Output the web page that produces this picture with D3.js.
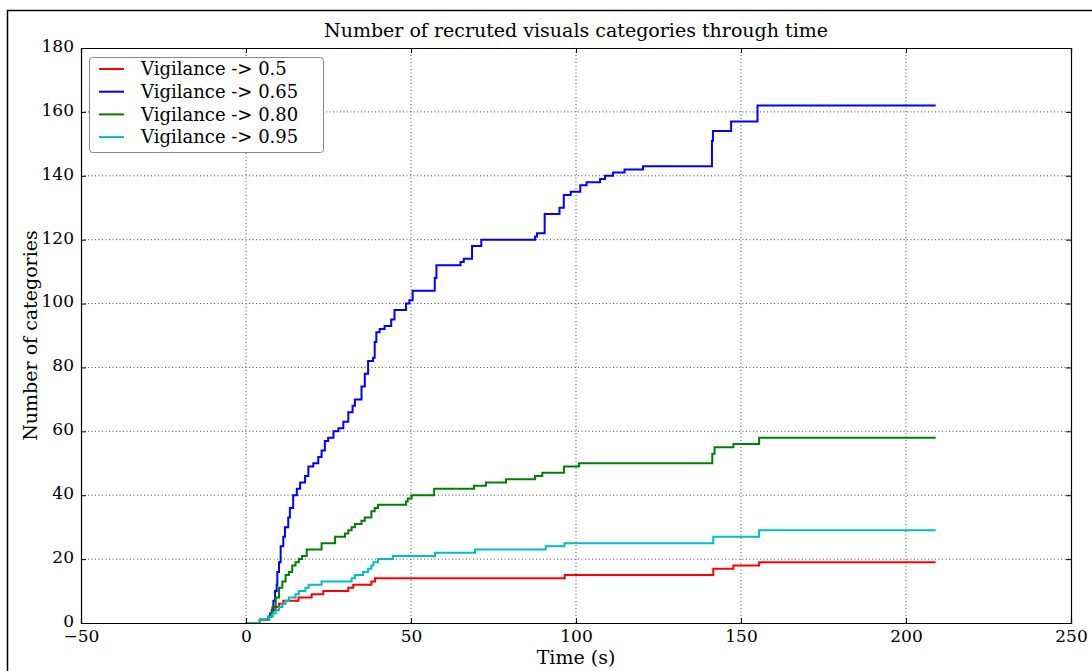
<!DOCTYPE html>
<html>
<head>
<meta charset="utf-8">
<script src="https://cdn.jsdelivr.net/npm/d3@7"></script>
<style>
	body { margin: 0; background: #fff; }
	svg text { font-family: "DejaVu Serif", serif; fill: #000; }
</style>
</head>
<body>
<svg id="chart" width="1092" height="671"></svg>
<script>
// step series: time (s) and number of categories at each step
var redT = [0, 4.2, 7, 8, 9, 10, 11.3, 13.3, 15.9, 19.9, 23.4, 31, 32.5, 38, 39.1, 96.6, 141.6, 147.7, 155.5, 209];
var redV = [0, 1, 2, 4, 5, 6, 7, 7, 8, 9, 10, 11, 12, 13, 14, 15, 17, 18, 19, 19];

var blueT = [0, 4.2, 6.8, 7.3, 7.8, 8.3, 8.8, 9.3, 9.5, 10, 10.5, 11.3, 11.8, 12.8, 13.3, 14.3, 15.4, 16.4, 17.9, 18.9, 20.4, 21.9, 22.9, 23.9, 24.9, 26.5, 28, 29.5, 31, 32.3, 33, 35, 36, 37, 38.5, 39, 39.5, 40.5, 42, 44, 45, 48.5, 49.5, 50.5, 57.2, 57.7, 65, 66, 68.5, 71.3, 87.6, 88.2, 90.5, 95, 96.3, 98.4, 101.3, 103.2, 107.3, 108.8, 111.2, 114.7, 120.3, 141.2, 141.5, 147, 155, 209];
var blueV = [0, 1, 2, 3, 4, 7, 10, 12, 16, 19, 24, 27, 30, 33, 36, 40, 42, 44, 46, 49, 50, 52, 54, 57, 58, 60, 61, 63, 66, 68, 70, 74, 78, 82, 83, 88, 91, 92, 93, 95, 98, 100, 101, 104, 108, 112, 113, 114, 118, 120, 121, 122, 128, 130, 134, 135, 137, 138, 139, 140, 141, 142, 143, 151, 154, 157, 162, 162];

var greenT = [0, 4.2, 7, 7.5, 8, 9, 10, 11, 12, 13, 14, 15, 16, 17, 18.4, 22.9, 27, 30, 31, 32, 33, 35, 36, 38, 39, 40, 48.5, 49, 50.2, 57, 69.1, 72.7, 78.8, 87.6, 89.8, 96.4, 100.9, 141.3, 142, 147.7, 155.5, 209];
var greenV = [0, 1, 2, 3, 5, 8, 11, 13, 15, 16, 18, 19, 20, 21, 23, 25, 27, 28, 29, 30, 31, 32, 33, 35, 36, 37, 38, 39, 40, 42, 43, 44, 45, 46, 47, 49, 50, 53, 55, 56, 58, 58];

var cyanT = [0, 4.2, 7, 8, 9, 10, 11, 12, 13, 15, 16, 18, 19, 22.9, 32, 33, 35.5, 37, 38, 38.6, 40, 44.5, 57.3, 69.4, 90.8, 96.5, 141.6, 155.5, 209];
var cyanV = [0, 1, 2, 3, 4, 5, 6, 7, 8, 9, 10, 11, 12, 13, 14, 15, 16, 17, 18, 19, 20, 21, 22, 23, 24, 25, 27, 29, 29];

var seriesNames = ["Vigilance -> 0.5", "Vigilance -> 0.65", "Vigilance -> 0.80", "Vigilance -> 0.95"];
var seriesColors = ["#ff0000", "#0000ff", "#008000", "#00bfbf"];
var xTicks = [-50, 0, 50, 100, 150, 200, 250];
var yTicks = [0, 20, 40, 60, 80, 100, 120, 140, 160, 180];

(function () {
	var svg = d3.select("#chart");
	var margin = {top: 48, right: 21, bottom: 48, left: 81},
		width = 1092 - margin.left - margin.right,
		height = 671 - margin.top - margin.bottom;

	// figure frame (clipped by the window)
	svg.append("rect")
		.attr("x", 7.5).attr("y", 10.5)
		.attr("width", 1200).attr("height", 800)
		.attr("fill", "none").attr("stroke", "#000").attr("stroke-width", 1.5);

	var g = svg.append("g").attr("transform", "translate(" + margin.left + "," + margin.top + ")");

	var x = d3.scaleLinear().domain([-50, 250]).range([0, width]);
	var y = d3.scaleLinear().domain([0, 180]).range([height, 0]);

	// grid
	g.append("g").selectAll("line").data(xTicks.slice(1, -1)).enter().append("line")
		.attr("x1", function (d) { return x(d); }).attr("x2", function (d) { return x(d); })
		.attr("y1", 0).attr("y2", height)
		.attr("stroke", "#000").attr("stroke-width", 0.7).attr("stroke-dasharray", "1,2.5");
	g.append("g").selectAll("line").data(yTicks.slice(1, -1)).enter().append("line")
		.attr("y1", function (d) { return y(d); }).attr("y2", function (d) { return y(d); })
		.attr("x1", 0).attr("x2", width)
		.attr("stroke", "#000").attr("stroke-width", 0.7).attr("stroke-dasharray", "1,2.5");

	// lines
	var data = [
		{t: redT, v: redV},
		{t: blueT, v: blueV},
		{t: greenT, v: greenV},
		{t: cyanT, v: cyanV}
	];
	var line = d3.line()
		.x(function (d) { return x(d[0]); })
		.y(function (d) { return y(d[1]); })
		.curve(d3.curveStepAfter);
	data.forEach(function (s, i) {
		g.append("path")
			.datum(d3.zip(s.t, s.v))
			.attr("fill", "none")
			.attr("stroke", seriesColors[i])
			.attr("stroke-width", 2)
			.attr("d", line);
	});

	// axes, ticks inside on all four sides
	var fmt = d3.format("");
	g.append("g").attr("transform", "translate(0," + height + ")")
		.call(d3.axisBottom(x).tickValues(xTicks).tickFormat(fmt).tickSize(-5).tickPadding(7));
	g.append("g")
		.call(d3.axisTop(x).tickValues(xTicks).tickFormat("").tickSize(-5));
	var yAxis = g.append("g")
		.call(d3.axisLeft(y).tickValues(yTicks).tickFormat(fmt).tickSize(-5).tickPadding(7));
	yAxis.selectAll(".tick text").attr("dy", "0.2em");
	g.append("g").attr("transform", "translate(" + width + ",0)")
		.call(d3.axisRight(y).tickValues(yTicks).tickFormat("").tickSize(-5));
	g.selectAll(".domain").attr("stroke", "#000").attr("stroke-width", 1.2);
	g.selectAll(".tick line").attr("stroke", "#000");
	g.selectAll(".tick text").style("font-family", "DejaVu Serif").style("font-size", "17px");

	// legend
	var lg = svg.append("g");
	lg.append("rect")
		.attr("x", 89.5).attr("y", 57.5).attr("width", 234).attr("height", 95).attr("rx", 3)
		.attr("fill", "#fff").attr("stroke", "#888").attr("stroke-width", 1);
	seriesNames.forEach(function (name, i) {
		var yy = 69 + i * 22.7;
		lg.append("line").attr("x1", 99).attr("x2", 124).attr("y1", yy).attr("y2", yy)
			.attr("stroke", seriesColors[i]).attr("stroke-width", 2);
		lg.append("text").attr("x", 141).attr("y", yy).attr("dy", "0.35em")
			.style("font-size", "18px").text(name);
	});

	// titles
	svg.append("text").attr("x", margin.left + width / 2).attr("y", 37)
		.attr("text-anchor", "middle").style("font-size", "19px")
		.text("Number of recruted visuals categories through time");
	svg.append("text").attr("x", margin.left + width / 2).attr("y", 664)
		.attr("text-anchor", "middle").style("font-size", "19px")
		.text("Time (s)");
	svg.append("text").attr("transform", "translate(37," + (margin.top + height / 2) + ") rotate(-90)")
		.attr("text-anchor", "middle").style("font-size", "19px")
		.text("Number of categories");
}) ();
</script>
</body>
</html>
